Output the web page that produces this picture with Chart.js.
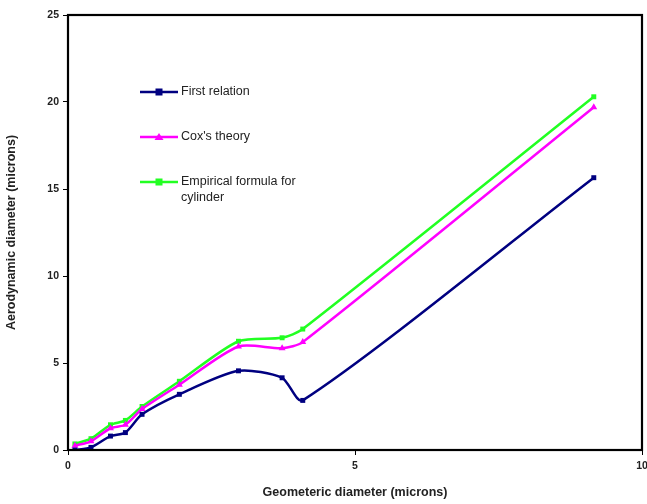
<!DOCTYPE html>
<html>
<head>
<meta charset="utf-8">
<script src="https://cdn.jsdelivr.net/npm/chart.js@4.4.1/dist/chart.umd.min.js"></script>
<style>
  html, body { margin: 0; padding: 0; background: #fff; }
  #wrap { width: 647px; height: 504px; }
</style>
</head>
<body>
<div id="wrap"><canvas id="chart" width="647" height="504"></canvas></div>
<script>
// valeurs
const geoDiameter = [0.12, 0.4, 0.74, 1.0, 1.29, 1.94, 2.97, 3.73, 4.09, 9.16];
const firstRelation = [0.0, 0.15, 0.8, 1.0, 2.05, 3.2, 4.55, 4.15, 2.85, 15.65];
const coxTheory = [0.25, 0.5, 1.25, 1.45, 2.35, 3.75, 5.95, 5.85, 6.2, 19.7];
const empirical = [0.35, 0.65, 1.45, 1.7, 2.5, 3.95, 6.25, 6.45, 6.95, 20.3];
const seriesNames = ["First relation", "Cox's theory", ["Empirical formula for", "cylinder"]];
const xTicks = [0, 5, 10];
const yTicks = [0, 5, 10, 15, 20, 25];

const FONT = "'Liberation Sans', Arial, sans-serif";

function pts(ys) {
    return geoDiameter.map((x, i) => ({ x: x, y: ys[i] }));
}

// cadre noir autour de la zone du graphique
const frame = {
    id: 'frame',
    afterDraw(chart) {
        const a = chart.chartArea;
        const c = chart.ctx;
        c.save();
        c.strokeStyle = '#000';
        c.lineWidth = 2.2;
        c.strokeRect(a.left, a.top, a.right - a.left, a.bottom - a.top);
        c.restore();
    }
};

// légende dessinée à l'intérieur du graphique
const innerLegend = {
    id: 'innerLegend',
    afterDraw(chart) {
        const c = chart.ctx;
        const rows = [92, 137, 182];
        c.save();
        chart.data.datasets.forEach((ds, i) => {
            const y = rows[i];
            c.strokeStyle = ds.borderColor;
            c.lineWidth = 2.5;
            c.beginPath();
            c.moveTo(140, y);
            c.lineTo(178, y);
            c.stroke();
            c.fillStyle = ds.borderColor;
            if (ds.pointStyle === 'triangle') {
                c.beginPath();
                c.moveTo(159, y - 4);
                c.lineTo(163.5, y + 3);
                c.lineTo(154.5, y + 3);
                c.closePath();
                c.fill();
            } else {
                c.fillRect(155.5, y - 3.5, 7, 7);
            }
            c.fillStyle = '#222';
            c.font = '12.5px ' + FONT;
            c.textBaseline = 'middle';
            const label = seriesNames[i];
            const lines = Array.isArray(label) ? label : [label];
            lines.forEach((t, j) => c.fillText(t, 181, y + j * 16));
        });
        c.restore();
    }
};

const ctx = document.getElementById('chart').getContext('2d');
new Chart(ctx, {
    type: 'scatter',
    data: {
        datasets: [
            {
                label: 'First relation',
                data: pts(firstRelation),
                borderColor: '#000080',
                backgroundColor: '#000080',
                pointStyle: 'rect',
                pointRadius: 3.5
            },
            {
                label: "Cox's theory",
                data: pts(coxTheory),
                borderColor: '#ff00ff',
                backgroundColor: '#ff00ff',
                pointStyle: 'triangle',
                pointRadius: 4
            },
            {
                label: 'Empirical formula for cylinder',
                data: pts(empirical),
                borderColor: '#22ff22',
                backgroundColor: '#22ff22',
                pointStyle: 'rect',
                pointRadius: 3.5
            }
        ].map(ds => Object.assign(ds, {
            showLine: true,
            borderWidth: 2.5,
            tension: 0.25,
            pointBorderWidth: 0
        }))
    },
    options: {
        responsive: false,
        animation: false,
        layout: { padding: { top: 15, right: 5, left: 0, bottom: 0 } },
        plugins: {
            legend: { display: false },
            tooltip: { enabled: false }
        },
        scales: {
            x: {
                type: 'linear',
                min: 0,
                max: 10,
                afterBuildTicks: s => { s.ticks = xTicks.map(v => ({ value: v })); },
                afterFit: s => { s.height = 54; s.paddingRight = 0; s.paddingLeft = 0; },
                grid: { drawOnChartArea: false, drawTicks: true, tickLength: 5, color: '#000' },
                border: { display: true, color: '#000', width: 2 },
                ticks: { color: '#222', font: { family: FONT, size: 10.5, weight: 'bold' }, padding: 5 },
                title: {
                    display: true,
                    text: 'Geometeric diameter (microns)',
                    color: '#222',
                    font: { family: FONT, size: 12.5, weight: 'bold' },
                    padding: { top: 8 }
                }
            },
            y: {
                type: 'linear',
                min: 0,
                max: 25,
                afterBuildTicks: s => { s.ticks = yTicks.map(v => ({ value: v })); },
                afterFit: s => { s.width = 68; },
                grid: { drawOnChartArea: false, drawTicks: true, tickLength: 5, color: '#000' },
                border: { display: true, color: '#000', width: 2 },
                ticks: { color: '#222', font: { family: FONT, size: 10.5, weight: 'bold' }, padding: 4 },
                title: {
                    display: true,
                    text: 'Aerodynamic diameter (microns)',
                    color: '#222',
                    font: { family: FONT, size: 12.5, weight: 'bold' },
                    padding: { bottom: 13 }
                }
            }
        }
    },
    plugins: [frame, innerLegend]
});
</script>
</body>
</html>
